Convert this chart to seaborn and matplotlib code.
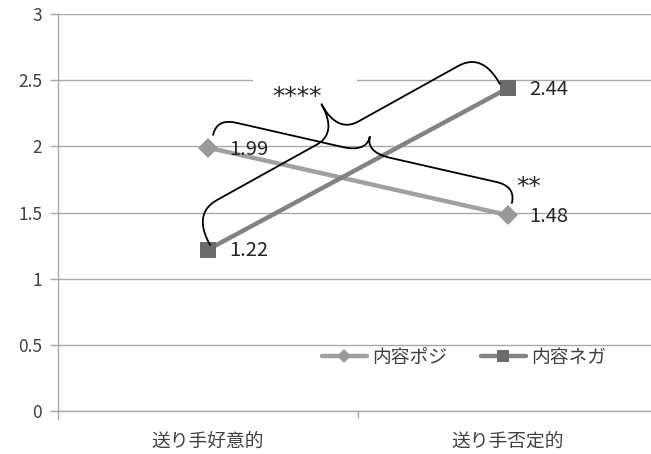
import numpy as np
import pandas as pd
import matplotlib
matplotlib.use("Agg")
import matplotlib.pyplot as plt
from matplotlib.lines import Line2D
import seaborn as sns

# --- data -------------------------------------------------------------
categories = ["送り手好意的", "送り手否定的"]
series_names = ["内容ポジ", "内容ネガ"]
pos_values = [1.99, 1.48]
neg_values = [1.22, 2.44]
y_ticks = [0, 0.5, 1, 1.5, 2, 2.5, 3]
y_tick_labels = ["0", "0.5", "1", "1.5", "2", "2.5", "3"]
sig_main = "****"
sig_sub = "**"

df = pd.DataFrame({
    "cond": categories * 2,
    "series": [series_names[0]] * 2 + [series_names[1]] * 2,
    "value": pos_values + neg_values,
})

# --- style ------------------------------------------------------------
sns.set_theme(style="white")
plt.rcParams["font.family"] = ["Noto Sans CJK JP", "DejaVu Sans"]

line_colors = {"内容ポジ": "#a0a0a0", "内容ネガ": "#828282"}
marker_colors = {"内容ポジ": "#999999", "内容ネガ": "#6b6b6b"}
marker_shapes = {"内容ポジ": "D", "内容ネガ": "s"}
grid_color = "#a8a8a8"
text_color = "#404040"

W, H, DPI = 651, 454, 100
fig = plt.figure(figsize=(W / DPI, H / DPI), dpi=DPI)
ax = fig.add_axes([58 / W, 1 - 411 / H, (W - 58) / W, (411 - 14) / H])

sns.lineplot(data=df, x="cond", y="value", hue="series", style="series",
             hue_order=series_names, style_order=series_names,
             palette=line_colors, markers=marker_shapes, dashes=False,
             linewidth=3.2, markersize=12, markeredgewidth=0,
             legend=False, ax=ax, zorder=4)

for line, name in zip(ax.lines, series_names):
    line.set_markerfacecolor(marker_colors[name])
    line.set_markeredgecolor(marker_colors[name])
    if name == "内容ポジ":
        line.set_markersize(10)

# --- axes -------------------------------------------------------------
ax.set_xlim(-0.5, 1.5 - 7 / 300)
ax.set_ylim(0, 3)
ax.set_yticks(y_ticks)
ax.set_yticklabels(y_tick_labels)
ax.set_xticks([0, 1])
ax.set_xticklabels(categories)
ax.set_xticks([0.5], minor=True)
ax.set_xlabel("")
ax.set_ylabel("")

ax.grid(axis="y", color=grid_color, linewidth=1.0, zorder=0)
ax.set_axisbelow(True)
for side in ["top", "right"]:
    ax.spines[side].set_visible(False)
for side in ["left", "bottom"]:
    ax.spines[side].set_color(grid_color)
    ax.spines[side].set_linewidth(1.0)
ax.spines["left"].set_bounds(-0.06, 3)

ax.tick_params(axis="y", which="major", length=6, width=1, color=grid_color,
               pad=5.5, labelsize=12.5, labelcolor=text_color, left=True)
ax.tick_params(axis="x", which="major", length=0, pad=14, labelsize=13.5,
               labelcolor=text_color)
ax.tick_params(axis="x", which="minor", length=5, width=1, color=grid_color,
               bottom=True)

# --- value labels ---------------------------------------------------
for vals in (pos_values, neg_values):
    for i, v in enumerate(vals):
        ax.annotate(f"{v:.2f}", xy=(i, v), xytext=(15, -1),
                    textcoords="offset points", ha="left", va="center",
                    fontsize=14.5, color="#262626", zorder=6)

# --- significance braces ---------------------------------------------
fig.canvas.draw()
to_px = ax.transData.transform
to_data = ax.transData.inverted().transform


def quad(p0, p1, p2, n=25):
    t = np.linspace(0, 1, n)[:, None]
    return (1 - t) ** 2 * p0 + 2 * (1 - t) * t * p1 + t ** 2 * p2


def brace_path(a, b, h1, h2, r_end, r_mid):
    """Curly brace from a to b (display coords), bulging to the left of a->b."""
    a, b = np.asarray(a, float), np.asarray(b, float)
    L = np.linalg.norm(b - a)
    u = (b - a) / L
    n = np.array([-u[1], u[0]])
    m = L / 2
    pts = np.vstack([
        quad(np.array([0, 0]), np.array([0, h1]), np.array([r_end, h1])),
        quad(np.array([m - r_mid, h1]), np.array([m, h1]), np.array([m, h1 + h2])),
        quad(np.array([m, h1 + h2]), np.array([m, h1]), np.array([m + r_mid, h1])),
        quad(np.array([L - r_end, h1]), np.array([L, h1]), np.array([L, 0])),
    ])
    return a + pts[:, :1] * u + pts[:, 1:] * n


def px(xd, yd):
    return to_px((xd, yd))


# brace joining the 内容ネガ points
b1 = brace_path(px(0.007, neg_values[0] + 0.034), px(0.973, neg_values[1] + 0.031),
                36, 33, 28, 24)
# brace joining the 内容ポジ points
b2 = brace_path(px(0.017, pos_values[0] + 0.096), px(1.013, pos_values[1] + 0.092),
                17, 16, 20, 25)
for path in (b1, b2):
    d = to_data(path)
    ax.plot(d[:, 0], d[:, 1], color="black", linewidth=1.3, zorder=5,
            solid_capstyle="round")

# white patch behind the main significance mark
ax.add_patch(plt.Rectangle((0.15, 2.44), 0.347, 0.12, facecolor="white",
                           edgecolor="none", zorder=2))
ax.text(0.297, 2.375, sig_main, ha="center", va="center", fontsize=18,
        family="DejaVu Sans", color="#262626", zorder=6)
ax.text(1.07, 1.695, sig_sub, ha="center", va="center", fontsize=18,
        family="DejaVu Sans", color="#262626", zorder=6)

# --- legend -------------------------------------------------------------
handles = [
    Line2D([], [], color=line_colors[s], linewidth=3.2, marker=marker_shapes[s],
           markersize=(7 if s == "内容ポジ" else 9),
           markerfacecolor=marker_colors[s], markeredgewidth=0)
    for s in series_names
]
ax.legend(handles, series_names, loc="center",
          bbox_to_anchor=((464 - 58) / (W - 58), (411 - 357) / (411 - 14)),
          ncol=2, frameon=False, fontsize=13.5, handlelength=2.4,
          handletextpad=0.3, columnspacing=1.8, labelcolor="#404040")

fig.savefig("out.png", dpi=DPI)
